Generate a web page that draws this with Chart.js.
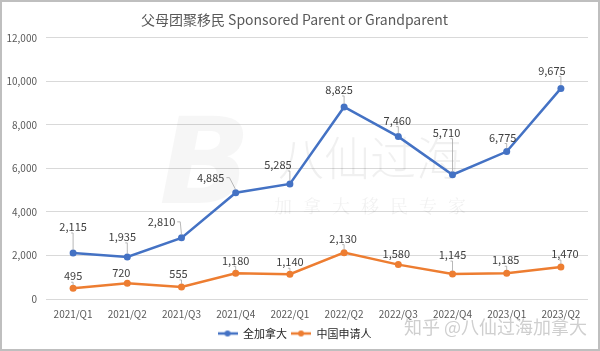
<!DOCTYPE html>
<html>
<head>
<meta charset="utf-8">
<script src="https://cdn.jsdelivr.net/npm/chart.js@4/dist/chart.umd.min.js"></script>
<style>
  html, body { margin: 0; padding: 0; background: #fff; }
  #wrap { width: 600px; height: 351px; }
</style>
</head>
<body>
<div id="wrap"><canvas id="chart" width="600" height="351"></canvas></div>
<script>
// data
const quarters = ["2021/Q1", "2021/Q2", "2021/Q3", "2021/Q4", "2022/Q1", "2022/Q2", "2022/Q3", "2022/Q4", "2023/Q1", "2023/Q2"];
const allCanada = [2115, 1935, 2810, 4885, 5285, 8825, 7460, 5710, 6775, 9675];
const chinaApplicants = [495, 720, 555, 1180, 1140, 2130, 1580, 1145, 1185, 1470];
const seriesNames = ["全加拿大", "中国申请人"];
const titleText = "父母团聚移民 Sponsored Parent or Grandparent";
const yMax = 12000;
const yStep = 2000;

const FONT = "'Noto Sans CJK SC', 'Liberation Sans', sans-serif";
const BLUE = "#4472C4";
const ORANGE = "#ED7D31";

// where each value label sits relative to its point (px), like the moved labels in the picture
const labelShift = [
    [[0, -26], [-5, -20], [-20, -16], [-25, -15], [-12, -19], [-5, -17], [-1, -16], [-6, -42], [-4, -14], [-9, -18]],
    [[0, -12], [-6, -11], [-3, -13], [0, -13], [0, -12], [-1, -14], [-2, -11], [0, -19], [-1, -13], [4, -13]]
];

// legend marker: short line with a dot, Excel style
function legendMarker(color) {
    const c = document.createElement("canvas");
    c.width = 20; c.height = 8;
    const g = c.getContext("2d");
    g.strokeStyle = color; g.lineWidth = 2.5;
    g.beginPath(); g.moveTo(0, 4); g.lineTo(20, 4); g.stroke();
    g.fillStyle = color;
    g.beginPath(); g.arc(10, 4, 3, 0, Math.PI * 2); g.fill();
    return c;
}

const fmt = v => v.toLocaleString("en-US");

const decorPlugin = {
    id: "decor",
    beforeDatasetsDraw(chart) {
        const ctx = chart.ctx;
        ctx.save();
        // faint background watermark
        ctx.fillStyle = "rgba(0,0,0,0.035)";
        ctx.font = "italic bold 120px 'DejaVu Sans', sans-serif";
        ctx.textAlign = "center";
        ctx.textBaseline = "middle";
        ctx.fillText("B", 205, 172);
        ctx.fillStyle = "rgba(0,0,0,0.06)";
        ctx.font = "300 46px " + FONT;
        ctx.fillText("八仙过海", 370, 158);
        ctx.font = "18px 'Noto Serif CJK SC', serif";
        const sub = "加拿大移民专家";
        for (let i = 0; i < sub.length; i++) ctx.fillText(sub[i], 283 + i * 29, 206);
        ctx.restore();
    },
    afterDraw(chart) {
        const ctx = chart.ctx;
        ctx.save();
        // frame
        ctx.strokeStyle = "#bfbfbf";
        ctx.lineWidth = 2;
        ctx.strokeRect(1, 1, chart.width - 2, chart.height - 2);
        // corner watermark
        ctx.fillStyle = "#cfcfcf";
        ctx.font = "18px " + FONT;
        ctx.textAlign = "right";
        ctx.textBaseline = "middle";
        ctx.fillText("知乎 @八仙过海加拿大", 587, 327);
        ctx.restore();
    }
};

const valueLabels = {
    id: "valueLabels",
    afterDatasetsDraw(chart) {
        const ctx = chart.ctx;
        ctx.save();
        ctx.font = "11px " + FONT;
        ctx.textAlign = "center";
        ctx.textBaseline = "middle";
        chart.data.datasets.forEach((ds, di) => {
            const meta = chart.getDatasetMeta(di);
            meta.data.forEach((pt, i) => {
                const [dx, dy] = labelShift[di][i];
                const lx = pt.x + dx, ly = pt.y + dy;
                const text = fmt(ds.data[i]);
                const hw = ctx.measureText(text).width / 2 + 1;
                const bottom = ly + 6;
                // leader line when the label is far from its point
                if (pt.y - bottom > 5 || Math.abs(dx) > hw) {
                    ctx.strokeStyle = "#a6a6a6";
                    ctx.lineWidth = 0.8;
                    ctx.beginPath();
                    if (pt.x > lx + hw) {
                        ctx.moveTo(lx + hw + 1, ly);
                        ctx.lineTo(lx + hw + 4, ly);
                    } else {
                        ctx.moveTo(Math.max(lx - hw, Math.min(lx + hw, pt.x)) - 2, bottom);
                        ctx.lineTo(Math.max(lx - hw, Math.min(lx + hw, pt.x)), bottom);
                    }
                    ctx.lineTo(pt.x, pt.y - 3);
                    ctx.stroke();
                }
                ctx.fillStyle = "#404040";
                ctx.fillText(text, lx, ly);
            });
        });
        ctx.restore();
    }
};

const ctx = document.getElementById("chart").getContext("2d");
new Chart(ctx, {
    type: "line",
    data: {
        labels: quarters,
        datasets: [
            {
                label: seriesNames[0],
                data: allCanada,
                borderColor: BLUE,
                backgroundColor: BLUE,
                borderWidth: 2.5,
                pointRadius: 3.5,
                pointBorderWidth: 0,
                tension: 0,
                fill: false
            },
            {
                label: seriesNames[1],
                data: chinaApplicants,
                borderColor: ORANGE,
                backgroundColor: ORANGE,
                borderWidth: 2.5,
                pointRadius: 3.5,
                pointBorderWidth: 0,
                tension: 0,
                fill: false
            }
        ]
    },
    options: {
        responsive: false,
        animation: false,
        devicePixelRatio: 1,
        layout: { padding: { left: 1, right: 12, top: 0, bottom: 2 } },
        plugins: {
            title: {
                display: true,
                text: titleText,
                color: "#595959",
                font: { family: FONT, size: 14, weight: "normal" },
                padding: { top: 11, bottom: 10 }
            },
            legend: {
                display: true,
                position: "bottom",
                labels: {
                    color: "#262626",
                    font: { family: FONT, size: 11 },
                    usePointStyle: true,
                    pointStyleWidth: 20,
                    padding: 4,
                    generateLabels(chart) {
                        const items = Chart.defaults.plugins.legend.labels.generateLabels(chart);
                        items.forEach((it, i) => {
                            it.pointStyle = legendMarker(chart.data.datasets[i].borderColor);
                        });
                        return items;
                    }
                }
            },
            tooltip: { enabled: false }
        },
        scales: {
            x: {
                offset: true,
                afterFit(scale) { scale.height = 25; },
                grid: { display: false, drawTicks: false },
                border: { display: false },
                ticks: {
                    color: "#595959",
                    font: { family: FONT, size: 10 },
                    padding: 9,
                    maxRotation: 0,
                    autoSkip: false
                }
            },
            y: {
                min: 0,
                max: yMax,
                afterFit(scale) { scale.width = 45; },
                grid: { color: "#d9d9d9", drawTicks: false, lineWidth: 1 },
                border: { display: false },
                ticks: {
                    stepSize: yStep,
                    color: "#595959",
                    font: { family: FONT, size: 10 },
                    padding: 9,
                    callback: v => fmt(v)
                }
            }
        }
    },
    plugins: [decorPlugin, valueLabels]
});
</script>
</body>
</html>
